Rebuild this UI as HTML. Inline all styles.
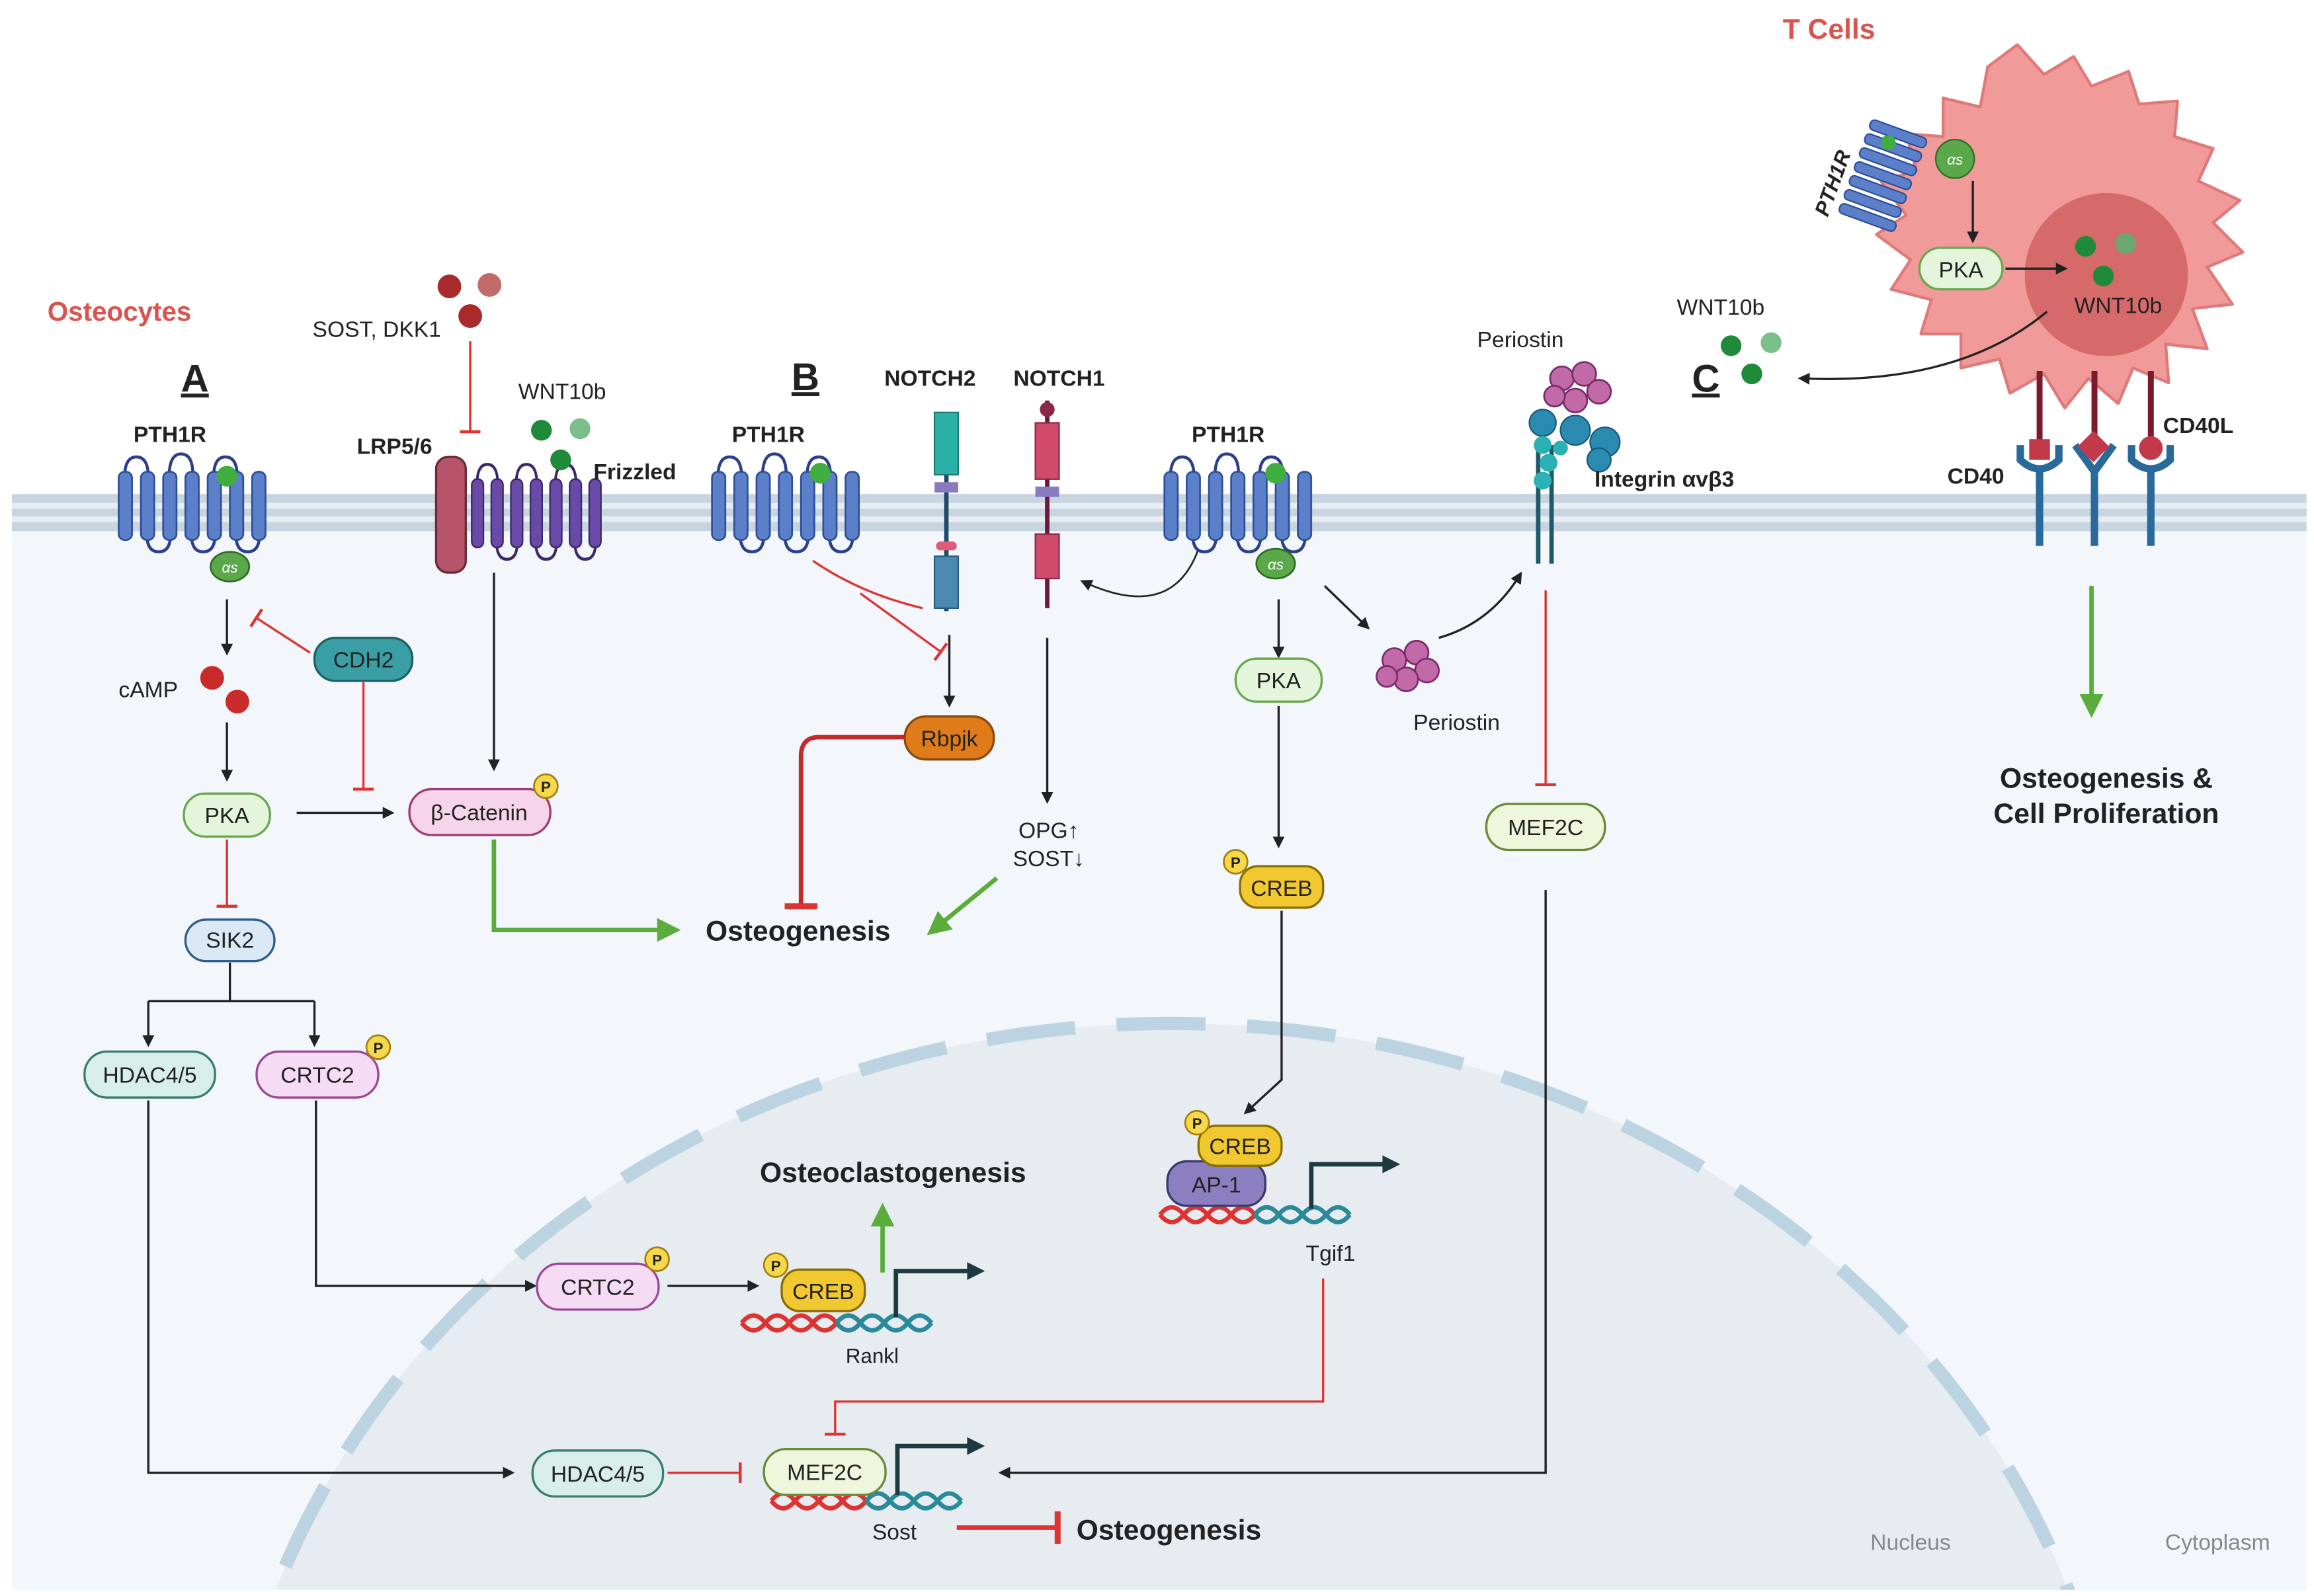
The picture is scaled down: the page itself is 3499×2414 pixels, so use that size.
<!DOCTYPE html>
<html><head><meta charset="utf-8"><style>
html,body{margin:0;padding:0;background:#fff;overflow:hidden;width:3499px;height:2414px}
svg{display:block}
text{font-family:"Liberation Sans",Arial,sans-serif;fill:#222}
.b{font-weight:bold}
</style></head><body>
<svg width="3499" height="2414" viewBox="0 0 1560 1076" xmlns="http://www.w3.org/2000/svg">
<defs>
<marker id="ak" markerWidth="8" markerHeight="8" refX="6" refY="4" orient="auto" markerUnits="userSpaceOnUse"><path d="M0,0 L8,4 L0,8 z" fill="#222"/></marker>
<marker id="ag" markerWidth="16" markerHeight="16" refX="12" refY="8" orient="auto" markerUnits="userSpaceOnUse"><path d="M0,0 L16,8 L0,16 z" fill="#5aad3a"/></marker>
<marker id="tr" markerWidth="4" markerHeight="14" refX="2" refY="7" orient="auto" markerUnits="userSpaceOnUse"><rect x="0" y="0" width="2" height="14" fill="#d33"/></marker>
<marker id="trb" markerWidth="6" markerHeight="22" refX="3" refY="11" orient="auto" markerUnits="userSpaceOnUse"><rect x="0" y="0" width="4" height="22" fill="#d33"/></marker>
<g id="pth">
 <path d="M4,12 q0,-14 8,-14 q8,0 8,14 M34,12 q0,-16 8,-16 q8,0 8,14 M64,12 q0,-14 8,-14 q8,0 8,14 M19,50 q0,12 8,12 q8,0 8,-12 M49,50 q0,12 8,12 q8,0 8,-12 M79,50 q0,12 8,12 q8,0 8,-12" fill="none" stroke="#2d3f8a" stroke-width="2"/>
 <g fill="#5b7fc9" stroke="#2d4f9a" stroke-width="1.2">
 <rect x="0" y="8" width="9" height="46" rx="4"/><rect x="15" y="8" width="9" height="46" rx="4"/><rect x="30" y="8" width="9" height="46" rx="4"/><rect x="45" y="8" width="9" height="46" rx="4"/><rect x="60" y="8" width="9" height="46" rx="4"/><rect x="75" y="8" width="9" height="46" rx="4"/><rect x="90" y="8" width="9" height="46" rx="4"/>
 </g>
</g>
<g id="dna">
 <path d="M0,8 q8,-10 16,0 t16,0 t16,0 t16,0 t16,0" fill="none" stroke="#d33" stroke-width="3"/>
 <path d="M0,8 q8,10 16,0 t16,0 t16,0 t16,0 t16,0" fill="none" stroke="#d33" stroke-width="3"/>
 <path d="M64,8 q8,-10 16,0 t16,0 t16,0 t16,0" fill="none" stroke="#2a8a9a" stroke-width="3"/>
 <path d="M64,8 q8,10 16,0 t16,0 t16,0 t16,0" fill="none" stroke="#2a8a9a" stroke-width="3"/>
</g>
<g id="P"><circle r="8" fill="#f7d84a" stroke="#a08010" stroke-width="1.2"/><text x="0" y="4" font-size="10" text-anchor="middle" class="b">P</text></g>
<g id="as"><ellipse rx="13" ry="10" fill="#5aa84a" stroke="#2f6a25" stroke-width="1.2"/><text x="0" y="4" font-size="10" text-anchor="middle" fill="#fff" style="fill:#fff;font-style:italic">αs</text></g>
</defs>

<rect x="8" y="358" width="1547" height="714" fill="#f3f6fb"/>
<clipPath id="cp"><rect x="8" y="358" width="1547" height="714"/></clipPath>
<g clip-path="url(#cp)">
<ellipse cx="790" cy="1260" rx="640" ry="570" fill="#e7ecf0" stroke="#bcd3e2" stroke-width="9" stroke-dasharray="60,28"/>
</g>
<rect x="8" y="333" width="1547" height="25" fill="#c8d4df"/>
<rect x="8" y="339" width="1547" height="4" fill="#e6edf3"/>
<rect x="8" y="348" width="1547" height="4" fill="#e6edf3"/>

<text x="32" y="216" font-size="18" class="b" style="fill:#d9534f">Osteocytes</text>
<text x="122" y="264" font-size="26" class="b" text-decoration="underline">A</text>
<text x="90" y="298" font-size="15" class="b">PTH1R</text>
<use href="#pth" x="80" y="310"/>
<circle cx="153" cy="321" r="7" fill="#3fae3f"/>
<use href="#as" x="155" y="382"/>
<line x1="153" y1="404" x2="153" y2="440" stroke="#222" stroke-width="1.5" marker-end="url(#ak)"/>
<text x="80" y="470" font-size="15">cAMP</text>
<circle cx="143" cy="457" r="8" fill="#c92a2a"/><circle cx="160" cy="473" r="8" fill="#c92a2a"/>
<line x1="153" y1="487" x2="153" y2="525" stroke="#222" stroke-width="1.5" marker-end="url(#ak)"/>
<rect x="212" y="430" width="66" height="29" rx="14" fill="#3a9ea5" stroke="#1f5f66" stroke-width="1.5"/>
<text x="245" y="450" font-size="15" text-anchor="middle">CDH2</text>
<line x1="209" y1="440" x2="172" y2="416" stroke="#d33" stroke-width="1.5" marker-end="url(#tr)"/>
<line x1="245" y1="460" x2="245" y2="533" stroke="#d33" stroke-width="1.5" marker-end="url(#tr)"/>
<rect x="124" y="535" width="58" height="29" rx="14" fill="#e4f5dc" stroke="#6aa84f" stroke-width="1.5"/>
<text x="153" y="555" font-size="15" text-anchor="middle">PKA</text>
<line x1="200" y1="548" x2="264" y2="548" stroke="#222" stroke-width="1.5" marker-end="url(#ak)"/>
<rect x="276" y="532" width="95" height="31" rx="15" fill="#f6d5ea" stroke="#a03c78" stroke-width="1.5"/>
<text x="323" y="553" font-size="15" text-anchor="middle">β-Catenin</text>
<use href="#P" x="368" y="530"/>
<line x1="153" y1="566" x2="153" y2="612" stroke="#d33" stroke-width="1.5" marker-end="url(#tr)"/>
<rect x="125" y="620" width="60" height="28" rx="14" fill="#dbe9f7" stroke="#2d5f8a" stroke-width="1.5"/>
<text x="155" y="639" font-size="15" text-anchor="middle">SIK2</text>
<path d="M155,649 V675 M100,675 H212" stroke="#222" stroke-width="1.5" fill="none"/>
<line x1="100" y1="675" x2="100" y2="704" stroke="#222" stroke-width="1.5" marker-end="url(#ak)"/>
<line x1="212" y1="675" x2="212" y2="704" stroke="#222" stroke-width="1.5" marker-end="url(#ak)"/>
<rect x="57" y="709" width="88" height="31" rx="15" fill="#d7efe8" stroke="#3a7d6e" stroke-width="1.5"/>
<text x="101" y="730" font-size="15" text-anchor="middle">HDAC4/5</text>
<rect x="173" y="709" width="82" height="31" rx="15" fill="#f5dbf3" stroke="#9a4a9a" stroke-width="1.5"/>
<text x="214" y="730" font-size="15" text-anchor="middle">CRTC2</text>
<use href="#P" x="255" y="706"/>
<path d="M100,742 V993 H345" stroke="#222" stroke-width="1.5" fill="none" marker-end="url(#ak)"/>
<path d="M213,742 V867 H360" stroke="#222" stroke-width="1.5" fill="none" marker-end="url(#ak)"/>
<rect x="362" y="852" width="82" height="31" rx="15" fill="#f5dbf3" stroke="#9a4a9a" stroke-width="1.5"/>
<text x="403" y="873" font-size="15" text-anchor="middle">CRTC2</text>
<use href="#P" x="443" y="849"/>
<line x1="450" y1="867" x2="510" y2="867" stroke="#222" stroke-width="1.5" marker-end="url(#ak)"/>
<use href="#dna" x="500" y="884"/>
<rect x="527" y="856" width="56" height="28" rx="12" fill="#f2c830" stroke="#8a6d00" stroke-width="1.5"/>
<text x="555" y="876" font-size="15" text-anchor="middle">CREB</text>
<use href="#P" x="523" y="853"/>
<text x="588" y="919" font-size="14" text-anchor="middle">Rankl</text>
<line x1="595" y1="858" x2="595" y2="815" stroke="#5aad3a" stroke-width="3" marker-end="url(#ag)"/>
<text x="602" y="797" font-size="19" class="b" text-anchor="middle">Osteoclastogenesis</text>
<path d="M604,888 V857 H655" stroke="#1f3a3f" stroke-width="3" fill="none"/><path d="M652,851 L664,857 L652,863 z" fill="#1f3a3f"/>
<rect x="359" y="978" width="88" height="31" rx="15" fill="#d7efe8" stroke="#3a7d6e" stroke-width="1.5"/>
<text x="403" y="999" font-size="15" text-anchor="middle">HDAC4/5</text>
<line x1="450" y1="993" x2="500" y2="993" stroke="#d33" stroke-width="1.5" marker-end="url(#tr)"/>
<use href="#dna" x="520" y="1004"/>
<rect x="515" y="977" width="82" height="31" rx="15" fill="#eef7dc" stroke="#6a8a3a" stroke-width="1.5"/>
<text x="556" y="998" font-size="15" text-anchor="middle">MEF2C</text>
<path d="M605,1008 V975 H655" stroke="#1f3a3f" stroke-width="3" fill="none"/><path d="M652,969 L664,975 L652,981 z" fill="#1f3a3f"/>
<text x="603" y="1038" font-size="15" text-anchor="middle">Sost</text>
<line x1="645" y1="1030" x2="714" y2="1030" stroke="#d33" stroke-width="3" marker-end="url(#trb)"/>
<text x="788" y="1038" font-size="19" class="b" text-anchor="middle">Osteogenesis</text>

<text x="266" y="306" font-size="15" class="b" text-anchor="middle">LRP5/6</text>
<rect x="294" y="308" width="20" height="78" rx="8" fill="#b5546b" stroke="#6a2a3a" stroke-width="1.5"/>
<g transform="translate(318,315) scale(0.88,1)">
<path d="M4,12 q0,-14 8,-14 q8,0 8,14 M34,12 q0,-14 8,-14 q8,0 8,14 M64,12 q0,-14 8,-14 q8,0 8,14 M19,50 q0,12 8,12 q8,0 8,-12 M49,50 q0,12 8,12 q8,0 8,-12 M79,50 q0,12 8,12 q8,0 8,-12" fill="none" stroke="#3a2a6a" stroke-width="2"/>
<g fill="#6a4aa8" stroke="#3a2a6a" stroke-width="1.2"><rect x="0" y="8" width="9" height="46" rx="4"/><rect x="15" y="8" width="9" height="46" rx="4"/><rect x="30" y="8" width="9" height="46" rx="4"/><rect x="45" y="8" width="9" height="46" rx="4"/><rect x="60" y="8" width="9" height="46" rx="4"/><rect x="75" y="8" width="9" height="46" rx="4"/><rect x="90" y="8" width="9" height="46" rx="4"/></g>
</g>
<text x="428" y="323" font-size="15" class="b" text-anchor="middle">Frizzled</text>
<text x="379" y="269" font-size="15" text-anchor="middle">WNT10b</text>
<circle cx="365" cy="290" r="7" fill="#1f8a3a"/><circle cx="391" cy="289" r="7" fill="#7abf8a"/><circle cx="378" cy="310" r="7" fill="#1f8a3a"/>
<text x="254" y="227" font-size="15" text-anchor="middle">SOST, DKK1</text>
<circle cx="303" cy="193" r="8" fill="#a82a2a"/><circle cx="330" cy="192" r="8" fill="#c26a6a"/><circle cx="317" cy="213" r="8" fill="#a82a2a"/>
<line x1="317" y1="230" x2="317" y2="292" stroke="#d33" stroke-width="1.5" marker-end="url(#tr)"/>
<line x1="333" y1="386" x2="333" y2="518" stroke="#222" stroke-width="1.5" marker-end="url(#ak)"/>
<path d="M333,566 V627 H455" stroke="#5aad3a" stroke-width="3" fill="none" marker-end="url(#ag)"/>
<text x="538" y="634" font-size="19" class="b" text-anchor="middle">Osteogenesis</text>

<text x="543" y="263" font-size="26" class="b" text-anchor="middle" text-decoration="underline">B</text>
<text x="518" y="298" font-size="15" class="b" text-anchor="middle">PTH1R</text>
<use href="#pth" x="480" y="310"/>
<circle cx="553" cy="319" r="7" fill="#3fae3f"/>
<text x="627" y="260" font-size="15" class="b" text-anchor="middle">NOTCH2</text>
<line x1="638" y1="320" x2="638" y2="412" stroke="#1f4a6a" stroke-width="3"/>
<rect x="630" y="278" width="16" height="42" fill="#2ab0a5" stroke="#1a7a70"/>
<rect x="630" y="325" width="16" height="7" fill="#8a7ac0"/>
<rect x="631" y="365" width="14" height="6" rx="3" fill="#e05a7a"/>
<rect x="630" y="375" width="16" height="35" fill="#4a8ab0" stroke="#2a5a80"/>
<text x="714" y="260" font-size="15" class="b" text-anchor="middle">NOTCH1</text>
<line x1="706" y1="270" x2="706" y2="410" stroke="#6a1a3a" stroke-width="3"/>
<rect x="698" y="285" width="16" height="38" fill="#d04a6a" stroke="#8a2a4a"/>
<rect x="698" y="328" width="16" height="7" fill="#8a7ac0"/>
<rect x="698" y="360" width="16" height="30" fill="#d04a6a" stroke="#8a2a4a"/>
<circle cx="706" cy="276" r="5" fill="#8a2a4a"/>
<path d="M548,378 Q580,400 622,410" stroke="#d33" stroke-width="1.5" fill="none"/>
<line x1="580" y1="400" x2="635" y2="440" stroke="#d33" stroke-width="1.5" marker-end="url(#tr)"/>
<line x1="640" y1="428" x2="640" y2="475" stroke="#222" stroke-width="1.5" marker-end="url(#ak)"/>
<rect x="610" y="483" width="60" height="29" rx="14" fill="#e07b1a" stroke="#8a4a10" stroke-width="1.5"/>
<text x="640" y="503" font-size="15" text-anchor="middle">Rbpjk</text>
<path d="M610,497 H552 Q540,497 540,510 V612" stroke="#c42a2a" stroke-width="3" fill="none" marker-end="url(#trb)"/>
<line x1="706" y1="430" x2="706" y2="540" stroke="#222" stroke-width="1.5" marker-end="url(#ak)"/>
<text x="707" y="565" font-size="15" text-anchor="middle">OPG↑</text>
<text x="707" y="584" font-size="15" text-anchor="middle">SOST↓</text>
<line x1="672" y1="592" x2="628" y2="628" stroke="#5aad3a" stroke-width="3" marker-end="url(#ag)"/>
<path d="M808,370 Q790,420 730,392" stroke="#222" stroke-width="1.2" fill="none" marker-end="url(#ak)"/>
<text x="828" y="298" font-size="15" class="b" text-anchor="middle">PTH1R</text>
<use href="#pth" x="785" y="310"/>
<circle cx="860" cy="319" r="7" fill="#3fae3f"/>
<use href="#as" x="860" y="380"/>
<line x1="862" y1="404" x2="862" y2="442" stroke="#222" stroke-width="1.5" marker-end="url(#ak)"/>
<rect x="833" y="444" width="58" height="29" rx="14" fill="#e4f5dc" stroke="#6aa84f" stroke-width="1.5"/>
<text x="862" y="464" font-size="15" text-anchor="middle">PKA</text>
<line x1="862" y1="476" x2="862" y2="570" stroke="#222" stroke-width="1.5" marker-end="url(#ak)"/>
<rect x="836" y="584" width="56" height="28" rx="12" fill="#f2c830" stroke="#8a6d00" stroke-width="1.5"/>
<text x="864" y="604" font-size="15" text-anchor="middle">CREB</text>
<use href="#P" x="833" y="581"/>
<path d="M864,614 V728 L840,750" stroke="#222" stroke-width="1.5" fill="none" marker-end="url(#ak)"/>
<use href="#dna" x="782" y="811"/>
<rect x="787" y="783" width="66" height="30" rx="13" fill="#8b7fc2" stroke="#3a3a6a" stroke-width="1.5"/>
<text x="820" y="804" font-size="15" text-anchor="middle">AP-1</text>
<rect x="808" y="759" width="56" height="27" rx="12" fill="#f2c830" stroke="#8a6d00" stroke-width="1.5"/>
<text x="836" y="778" font-size="15" text-anchor="middle">CREB</text>
<use href="#P" x="807" y="757"/>
<path d="M884,815 V785 H935" stroke="#1f3a3f" stroke-width="3" fill="none"/><path d="M932,779 L944,785 L932,791 z" fill="#1f3a3f"/>
<text x="897" y="850" font-size="15" text-anchor="middle">Tgif1</text>
<path d="M892,862 V945 H563 V968" stroke="#d33" stroke-width="1.5" fill="none" marker-end="url(#tr)"/>
<line x1="893" y1="395" x2="922" y2="423" stroke="#222" stroke-width="1.5" marker-end="url(#ak)"/>
<g fill="#c26aa8" stroke="#7a2a6a" stroke-width="1.2">
<circle cx="940" cy="445" r="8"/><circle cx="955" cy="440" r="8"/><circle cx="962" cy="452" r="8"/><circle cx="948" cy="458" r="8"/><circle cx="935" cy="456" r="7"/></g>
<text x="982" y="492" font-size="15" text-anchor="middle">Periostin</text>
<path d="M970,430 Q1005,420 1025,387" stroke="#222" stroke-width="1.5" fill="none" marker-end="url(#ak)"/>
<text x="1025" y="234" font-size="15" text-anchor="middle">Periostin</text>
<g fill="#c26aa8" stroke="#7a2a6a" stroke-width="1.2">
<circle cx="1053" cy="255" r="8"/><circle cx="1068" cy="252" r="8"/><circle cx="1078" cy="264" r="8"/><circle cx="1062" cy="270" r="8"/><circle cx="1048" cy="267" r="7"/></g>
<line x1="1037" y1="300" x2="1037" y2="380" stroke="#1f5a6a" stroke-width="3"/>
<line x1="1046" y1="300" x2="1046" y2="380" stroke="#1f5a6a" stroke-width="3"/>
<g fill="#2a8ab0" stroke="#1a5a7a"><circle cx="1040" cy="285" r="9"/><circle cx="1062" cy="290" r="10"/><circle cx="1082" cy="298" r="10"/><circle cx="1078" cy="310" r="8"/></g>
<g fill="#2ab0b5"><circle cx="1040" cy="300" r="6"/><circle cx="1044" cy="312" r="6"/><circle cx="1040" cy="324" r="6"/><circle cx="1052" cy="302" r="5"/></g>
<text x="1122" y="328" font-size="15" class="b" text-anchor="middle">Integrin αvβ3</text>
<line x1="1042" y1="398" x2="1042" y2="530" stroke="#d33" stroke-width="1.5" marker-end="url(#tr)"/>
<rect x="1002" y="542" width="80" height="31" rx="15" fill="#eef7dc" stroke="#6a8a3a" stroke-width="1.5"/>
<text x="1042" y="563" font-size="15" text-anchor="middle">MEF2C</text>
<path d="M1042,600 V993 H675" stroke="#222" stroke-width="1.5" fill="none" marker-end="url(#ak)"/>

<path d="M1360,30 L1378,50 L1398,38 L1410,58 L1435,48 L1442,70 L1468,68 L1466,92 L1492,100 L1482,122 L1510,135 L1492,150 L1512,170 L1488,180 L1505,205 L1478,208 L1488,235 L1460,232 L1462,258 L1438,248 L1428,272 L1408,255 L1392,275 L1378,252 L1355,265 L1348,242 L1322,248 L1322,225 L1295,225 L1302,202 L1275,195 L1288,175 L1265,158 L1285,145 L1268,122 L1292,115 L1285,90 L1310,92 L1310,66 L1335,72 L1340,45 Z" fill="#f09a9a" stroke="#e07a7a" stroke-width="2" stroke-linejoin="round"/>
<circle cx="1420" cy="185" r="55" fill="#d66a6a"/>
<text x="1233" y="26" font-size="19" class="b" text-anchor="middle" style="fill:#d9534f">T Cells</text>
<g transform="translate(1262,80) rotate(20)">
<g fill="#5b7fc9" stroke="#2d4f9a" stroke-width="1"><rect x="0" y="0" width="40" height="7" rx="3"/><rect x="0" y="10" width="40" height="7" rx="3"/><rect x="0" y="20" width="40" height="7" rx="3"/><rect x="0" y="30" width="40" height="7" rx="3"/><rect x="0" y="40" width="40" height="7" rx="3"/><rect x="0" y="50" width="40" height="7" rx="3"/><rect x="0" y="60" width="40" height="7" rx="3"/></g>
</g>
<circle cx="1273" cy="96" r="5" fill="#3fae3f"/>
<circle cx="1318" cy="107" r="13" fill="#5aa84a" stroke="#2f6a25"/><text x="1318" y="111" font-size="10" text-anchor="middle" style="fill:#fff;font-style:italic">αs</text>
<text x="1240" y="125" font-size="14" class="b" text-anchor="middle" transform="rotate(-70 1240 125)" style="font-style:italic">PTH1R</text>
<line x1="1330" y1="122" x2="1330" y2="162" stroke="#222" stroke-width="1.5" marker-end="url(#ak)"/>
<rect x="1294" y="167" width="56" height="28" rx="14" fill="#e4f5dc" stroke="#6aa84f" stroke-width="1.5"/>
<text x="1322" y="187" font-size="15" text-anchor="middle">PKA</text>
<line x1="1352" y1="181" x2="1392" y2="181" stroke="#222" stroke-width="1.5" marker-end="url(#ak)"/>
<circle cx="1406" cy="166" r="7" fill="#1f8a3a"/><circle cx="1433" cy="164" r="7" fill="#6aa870"/><circle cx="1418" cy="186" r="7" fill="#1f8a3a"/>
<text x="1428" y="211" font-size="15" text-anchor="middle">WNT10b</text>
<path d="M1380,210 Q1320,260 1214,255" stroke="#222" stroke-width="1.5" fill="none" marker-end="url(#ak)"/>
<text x="1150" y="264" font-size="26" class="b" text-anchor="middle" text-decoration="underline">C</text>
<text x="1160" y="212" font-size="15" text-anchor="middle">WNT10b</text>
<circle cx="1167" cy="233" r="7" fill="#1f8a3a"/><circle cx="1194" cy="231" r="7" fill="#7abf8a"/><circle cx="1181" cy="252" r="7" fill="#1f8a3a"/>
<g stroke="#7a1a2a" stroke-width="4"><line x1="1375" y1="250" x2="1375" y2="300"/><line x1="1412" y1="250" x2="1412" y2="295"/><line x1="1450" y1="250" x2="1450" y2="298"/></g>
<g stroke="#2a6a9a" stroke-width="5" fill="none">
<path d="M1362,300 V310 Q1375,322 1388,310 V300"/><line x1="1375" y1="316" x2="1375" y2="368"/>
<path d="M1399,300 L1412,318 L1425,300"/><line x1="1412" y1="316" x2="1412" y2="368"/>
<path d="M1437,300 V310 Q1450,322 1463,310 V300"/><line x1="1450" y1="316" x2="1450" y2="368"/>
</g>
<rect x="1368" y="296" width="14" height="14" fill="#c23a4a"/>
<rect x="1404" y="294" width="15" height="15" fill="#c23a4a" transform="rotate(45 1412 301)"/>
<circle cx="1450" cy="302" r="8" fill="#c23a4a"/>
<text x="1332" y="326" font-size="15" class="b" text-anchor="middle">CD40</text>
<text x="1482" y="292" font-size="15" class="b" text-anchor="middle">CD40L</text>
<line x1="1410" y1="395" x2="1410" y2="480" stroke="#5aad3a" stroke-width="3" marker-end="url(#ag)"/>
<text x="1420" y="531" font-size="19" class="b" text-anchor="middle">Osteogenesis &amp;</text>
<text x="1420" y="555" font-size="19" class="b" text-anchor="middle">Cell Proliferation</text>
<text x="1288" y="1045" font-size="15" text-anchor="middle" style="fill:#888">Nucleus</text>
<text x="1495" y="1045" font-size="15" text-anchor="middle" style="fill:#888">Cytoplasm</text>
</svg>
</body></html>
